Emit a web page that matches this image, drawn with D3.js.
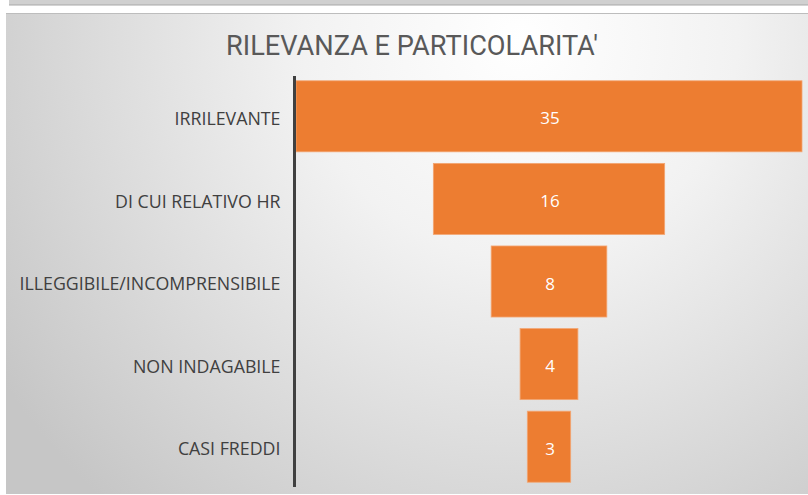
<!DOCTYPE html>
<html>
<head>
<meta charset="utf-8">
<script src="https://d3js.org/d3.v7.min.js"></script>
<style>
  body { margin: 0; background: #fff; }
  svg { display: block; }
</style>
</head>
<body>
<svg id="chart" width="808" height="495"></svg>
<script>
  var categories = ['IRRILEVANTE', 'DI CUI RELATIVO HR', 'ILLEGGIBILE/INCOMPRENSIBILE', 'NON INDAGABILE', 'CASI FREDDI'];
  var values = [35, 16, 8, 4, 3];
  var title = "RILEVANZA E PARTICOLARITA'";

  var data = categories.map(function(c, i) { return { cat: c, val: values[i] }; });

  var svg = d3.select('#chart');
  var defs = svg.append('defs');

  var grad = defs.append('radialGradient')
      .attr('id', 'bg')
      .attr('gradientUnits', 'userSpaceOnUse')
      .attr('cx', 520).attr('cy', 40).attr('r', 620)
      .attr('fx', 520).attr('fy', 40);
  grad.append('stop').attr('offset', '0%').attr('stop-color', '#ffffff');
  grad.append('stop').attr('offset', '35%').attr('stop-color', '#f2f2f2');
  grad.append('stop').attr('offset', '100%').attr('stop-color', '#c6c6c6');

  // strip of the previous chart at the top
  svg.append('rect').attr('x', 9).attr('y', 0).attr('width', 799).attr('height', 5)
      .attr('fill', '#d0d0d0');
  svg.append('line').attr('x1', 9).attr('x2', 808).attr('y1', 5).attr('y2', 5)
      .attr('stroke', '#a8a8a8').attr('stroke-width', 1);

  // chart panel
  svg.append('rect').attr('x', 6).attr('y', 13).attr('width', 802).attr('height', 481)
      .attr('fill', 'url(#bg)');
  svg.append('line').attr('x1', 6).attr('x2', 808).attr('y1', 13.5).attr('y2', 13.5)
      .attr('stroke', '#bdbdbd').attr('stroke-width', 1);

  svg.append('text')
      .attr('x', 226).attr('y', 55)
      .attr('textLength', 372).attr('lengthAdjust', 'spacingAndGlyphs')
      .style('font-family', 'Roboto, sans-serif')
      .style('font-weight', 400)
      .style('font-size', '28px')
      .style('fill', '#595959')
      .text(title);

  var cx = 549;
  var x = d3.scaleLinear().domain([0, d3.max(values)]).range([0, 506]);
  var y = d3.scaleBand().domain(categories).range([75, 488])
      .paddingInner(0.14).paddingOuter(0.07);

  svg.selectAll('rect.bar')
      .data(data)
      .enter()
      .append('rect')
      .attr('class', 'bar')
      .attr('x', function(d) { return cx - x(d.val) / 2; })
      .attr('y', function(d) { return y(d.cat); })
      .attr('width', function(d) { return x(d.val); })
      .attr('height', y.bandwidth())
      .attr('fill', '#ed7d31')
      .attr('stroke', '#f3a673')
      .attr('stroke-width', 0.8);

  svg.selectAll('text.val')
      .data(data)
      .enter()
      .append('text')
      .attr('class', 'val')
      .attr('x', cx + 1)
      .attr('y', function(d) { return y(d.cat) + y.bandwidth() / 2 + 2; })
      .attr('dy', '0.36em')
      .attr('text-anchor', 'middle')
      .style('font-family', '"Open Sans", sans-serif')
      .style('font-size', '17px')
      .style('fill', '#ffffff')
      .text(function(d) { return d.val; });

  // category axis
  var yAxis = d3.axisLeft(y).tickSize(0).tickPadding(14);
  var g = svg.append('g').attr('transform', 'translate(294.5,2)').call(yAxis);
  g.select('.domain').remove();
  g.selectAll('text')
      .attr('dy', '0.38em')
      .style('font-family', '"Open Sans", sans-serif')
      .style('font-size', '17.8px')
      .style('fill', '#404040');
  g.append('line').attr('x1', 0).attr('x2', 0).attr('y1', 74).attr('y2', 485)
      .attr('stroke', '#404040').attr('stroke-width', 3);
</script>
</body>
</html>
